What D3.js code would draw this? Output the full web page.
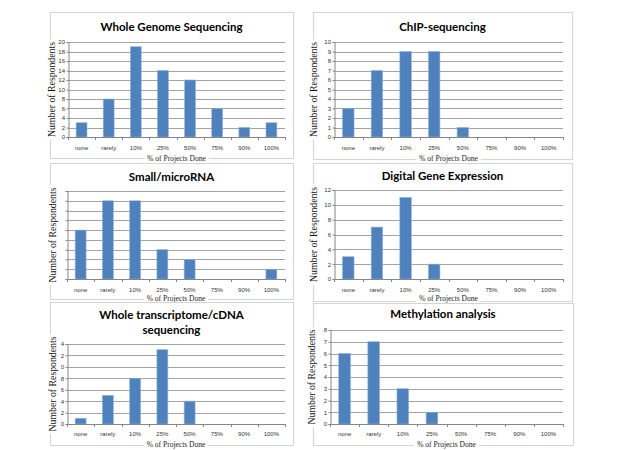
<!DOCTYPE html>
<html>
<head>
<meta charset="utf-8">
<script src="https://cdn.jsdelivr.net/npm/d3@7"></script>
<style>
  body { margin: 0; background: #fff; }
  svg { display: block; }
</style>
</head>
<body>
<div id="chart"></div>
<script>
// categories shared by all six panels
const categories = ["none", "rarely", "10%", "25%", "50%", "75%", "90%", "100%"];

// respondents per panel
const wgsValues = [3, 8, 19, 14, 12, 6, 2, 3];
const chipValues = [3, 7, 9, 9, 1, 0, 0, 0];
const smallRnaValues = [5, 8, 8, 3, 2, 0, 0, 1];
const dgeValues = [3, 7, 11, 2, 0, 0, 0, 0];
const transcriptomeValues = [1, 5, 8, 13, 4, 0, 0, 0];
const methylationValues = [6, 7, 3, 1, 0, 0, 0, 0];

// y tick values per panel
const wgsTicks = [0, 2, 4, 6, 8, 10, 12, 14, 16, 18, 20];
const chipTicks = [0, 1, 2, 3, 4, 5, 6, 7, 8, 9, 10];
const smallRnaTicks = [0, 1, 2, 3, 4, 5, 6, 7, 8, 9];
const dgeTicks = [0, 2, 4, 6, 8, 10, 12];
const transcriptomeTicks = [0, 2, 4, 6, 8, 10, 12, 14];
const methylationTicks = [0, 1, 2, 3, 4, 5, 6, 7, 8];

const xTitle = "% of Projects Done";
const yTitle = "Number of Respondents";

// layout of each panel: box = border, plot = plotting area [x0, y0, x1, y1]
let panels = [
    { title: ["Whole Genome Sequencing"], values: wgsValues, ticks: wgsTicks,
      box: [50, 12, 293, 158], plot: [68, 42, 285, 137], titleY: [31], xTitleY: 158, catY: 148, yTitleX: 51 },
    { title: ["ChIP-sequencing"], values: chipValues, ticks: chipTicks,
      box: [313, 12, 572, 159], plot: [334, 42, 563, 137], titleY: [31], xTitleY: 158, catY: 148, yTitleX: 313 },
    { title: ["Small/microRNA"], values: smallRnaValues, ticks: smallRnaTicks, hideTickLabels: true,
      box: [50, 163, 293, 299], plot: [67, 191, 285, 279], titleY: [181], xTitleY: 298, catY: 290, yTitleX: 52 },
    { title: ["Digital Gene Expression"], values: dgeValues, ticks: dgeTicks,
      box: [313, 163, 572, 301], plot: [334, 190, 563, 279], titleY: [180], xTitleY: 298, catY: 290, yTitleX: 313 },
    { title: ["Whole transcriptome/cDNA", "sequencing"], values: transcriptomeValues, ticks: transcriptomeTicks, labelClipX: 61,
      box: [50, 302, 293, 445], plot: [67, 344, 285, 424], titleY: [319, 334], xTitleY: 444, catY: 434, yTitleX: 52 },
    { title: ["Methylation analysis"], values: methylationValues, ticks: methylationTicks,
      box: [313, 303, 573, 445], plot: [330, 330, 563, 424], titleY: [318], xTitleY: 444, catY: 434, yTitleX: 311 }
];

let svg = d3.select("#chart")
    .append("svg")
    .attr("width", 624)
    .attr("height", 450);

svg.append("rect").attr("width", 624).attr("height", 450).attr("fill", "#fff");

panels.forEach(function(p, pi) {
    let g = svg.append("g").attr("class", "panel");
    let [bx0, by0, bx1, by1] = p.box;
    let [px0, py0, px1, py1] = p.plot;

    // border of the chart
    g.append("rect")
        .attr("x", bx0 + 0.5)
        .attr("y", by0 + 0.5)
        .attr("width", bx1 - bx0)
        .attr("height", by1 - by0)
        .attr("fill", "none")
        .attr("stroke", "#d4d4d4");

    let x = d3.scaleBand()
        .domain(categories)
        .range([px0, px1])
        .paddingInner(0.6)
        .paddingOuter(0.3);

    let y = d3.scaleLinear()
        .domain([0, d3.max(p.ticks)])
        .range([py1, py0]);

    // grid
    g.selectAll(".grid")
        .data(p.ticks.filter(t => t > 0))
        .enter()
        .append("line")
        .attr("x1", px0)
        .attr("x2", px1)
        .attr("y1", d => Math.round(y(d)) + 0.5)
        .attr("y2", d => Math.round(y(d)) + 0.5)
        .attr("stroke", "#a3a3a3");

    // bars
    g.selectAll(".bar")
        .data(p.values)
        .enter()
        .append("rect")
        .attr("x", (d, i) => x(categories[i]))
        .attr("y", d => y(d))
        .attr("width", x.bandwidth())
        .attr("height", d => y(0) - y(d))
        .attr("fill", "#4f81bd")
        .attr("stroke", "#8fb0dc")
        .attr("stroke-width", 0.6);

    // y axis
    let yAxis = g.append("g")
        .attr("transform", `translate(${px0 + 0.5},0)`)
        .call(d3.axisLeft(y).tickValues(p.ticks).tickSize(2).tickPadding(1.5)
            .tickFormat(p.hideTickLabels ? "" : d3.format("d")));
    yAxis.select(".domain").attr("stroke", "#868686");
    yAxis.selectAll("line").attr("stroke", "#868686");
    yAxis.selectAll("text")
        .style("font-family", "'Liberation Sans', Arial, sans-serif")
        .style("font-size", "6px")
        .attr("fill", "#333");

    // in the transcriptome chart the first digit of the labels is cut off
    if (p.labelClipX) {
        let clipId = "clip" + pi;
        svg.append("clipPath").attr("id", clipId)
            .append("rect")
            .attr("x", p.labelClipX - (px0 + 0.5))
            .attr("y", py0 - 10)
            .attr("width", 40)
            .attr("height", py1 - py0 + 20);
        yAxis.attr("clip-path", `url(#${clipId})`);
    }

    // x axis line and category ticks
    g.append("line")
        .attr("x1", px0)
        .attr("x2", px1)
        .attr("y1", py1 + 0.5)
        .attr("y2", py1 + 0.5)
        .attr("stroke", "#868686");

    g.selectAll(".ctick")
        .data(d3.range(categories.length + 1))
        .enter()
        .append("line")
        .attr("x1", i => Math.round(px0 + i * x.step()) + 0.5)
        .attr("x2", i => Math.round(px0 + i * x.step()) + 0.5)
        .attr("y1", py1)
        .attr("y2", py1 + 3)
        .attr("stroke", "#868686");

    g.selectAll(".cat")
        .data(categories)
        .enter()
        .append("text")
        .attr("x", d => x(d) + x.bandwidth() / 2)
        .attr("y", p.catY)
        .attr("dy", "0.35em")
        .attr("text-anchor", "middle")
        .style("font-family", "'Liberation Sans', Arial, sans-serif")
        .style("font-size", "6px")
        .attr("fill", "#333")
        .text(d => d);

    // title
    p.title.forEach(function(line, li) {
        g.append("text")
            .attr("x", (bx0 + bx1) / 2)
            .attr("y", p.titleY[li])
            .attr("text-anchor", "middle")
            .style("font-family", "Lato, 'Open Sans', sans-serif")
            .style("font-size", "11.5px")
            .style("font-weight", "bold")
            .attr("fill", "#000")
            .text(line);
    });

    // x title sitting on the bottom border
    let xt = g.append("text")
        .attr("x", (px0 + px1) / 2)
        .attr("y", p.xTitleY)
        .attr("dy", "0.35em")
        .attr("text-anchor", "middle")
        .style("font-family", "'Liberation Serif', 'Times New Roman', serif")
        .style("font-size", "7.5px")
        .attr("fill", "#222")
        .text(xTitle);
    let xw = xt.node().getComputedTextLength();
    g.insert("rect", function() { return xt.node(); })
        .attr("x", (px0 + px1) / 2 - xw / 2 - 3)
        .attr("y", p.xTitleY - 4)
        .attr("width", xw + 6)
        .attr("height", 8)
        .attr("fill", "#fff");

    // y title sitting on the left border
    let cy = (py0 + py1) / 2;
    g.append("rect")
        .attr("x", p.yTitleX - 5)
        .attr("y", cy - 50)
        .attr("width", 10)
        .attr("height", 100)
        .attr("fill", "#fff");
    g.append("text")
        .attr("transform", `translate(${p.yTitleX},${cy}) rotate(-90)`)
        .attr("dy", "0.35em")
        .attr("text-anchor", "middle")
        .attr("textLength", 95)
        .attr("lengthAdjust", "spacingAndGlyphs")
        .style("font-family", "'Liberation Serif', 'Times New Roman', serif")
        .style("font-size", "11px")
        .attr("fill", "#111")
        .text(yTitle);
});
</script>
</body>
</html>
